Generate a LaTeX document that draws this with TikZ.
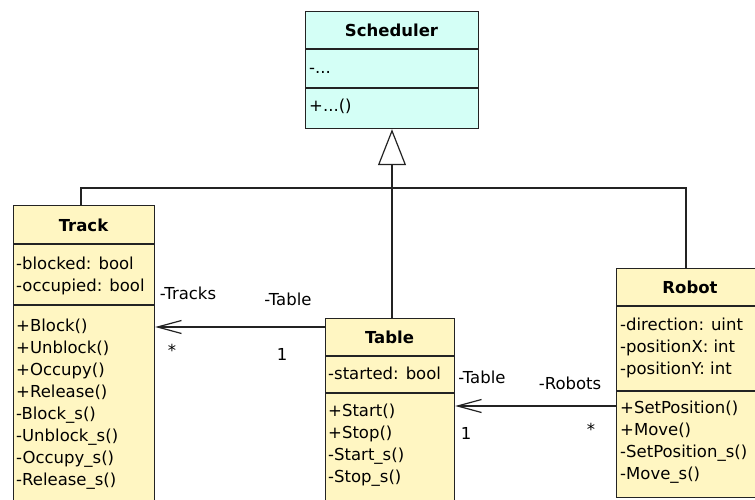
\documentclass[tikz,border=0pt]{standalone}
\usepackage{fontspec}
\setmainfont{DejaVu Sans}
\usetikzlibrary{arrows.meta,calc}
\definecolor{yel}{RGB}{255,246,194}
\definecolor{cyn}{RGB}{212,255,246}
\definecolor{ink}{RGB}{35,35,35}
\begin{document}
\begin{tikzpicture}[x=1pt,y=-1pt,
  box/.style={draw=ink,line width=1.2pt,inner sep=0pt,anchor=north west},
  head/.style={font=\fontsize{16.5}{20}\selectfont\bfseries,inner sep=0pt,anchor=center},
  body/.style={font=\fontsize{16.5}{22}\selectfont,inner sep=0pt,anchor=north west,align=left},
  lbl/.style={font=\fontsize{16.5}{18}\selectfont,inner sep=0pt,anchor=center},
  div/.style={draw=ink,line width=1.2pt},
  link/.style={draw=ink,line width=1.2pt},
  assoc/.style={draw=ink,line width=1.2pt,-{Straight Barb[length=24pt,width=13pt]}},
  gen/.style={draw=ink,line width=1.2pt,-{Triangle[open,length=36pt,width=28pt,fill=white]}}]
\useasboundingbox (0,0) rectangle (755,500);
\clip (0,0) rectangle (755,500);
\fill[white] (0,0) rectangle (755,500);

% Scheduler
\node[box,fill=cyn,minimum width=173pt,minimum height=117pt] (sched) at (305,11) {};
\node[head] (schedH) at (391.5,30) {Scheduler};
\draw[div] ($(sched.north west)+(0,38)$) -- ($(sched.north east)+(0,38)$);
\draw[div] ($(sched.north west)+(0,77)$) -- ($(sched.north east)+(0,77)$);
\node[body] (schedA) at (309,58) {\strut -...};
\node[body] (schedO) at (309,96) {\strut +...()};

% Track
\node[box,fill=yel,minimum width=141pt,minimum height=305pt] (track) at (13,205) {};
\node[head] (trackH) at (83.5,225) {Track};
\draw[div] ($(track.north west)+(0,39)$) -- ($(track.north east)+(0,39)$);
\draw[div] ($(track.north west)+(0,100)$) -- ($(track.north east)+(0,100)$);
\node[body] (trackA) at (16,254) {\strut -blocked: bool\\-occupied: bool};
\node[body] (trackO) at (16,316) {\strut +Block()\\+Unblock()\\+Occupy()\\+Release()\\-Block\_s()\\-Unblock\_s()\\-Occupy\_s()\\-Release\_s()};

% Table
\node[box,fill=yel,minimum width=129pt,minimum height=192pt] (table) at (325,318) {};
\node[head] (tableH) at (389.5,337) {Table};
\draw[div] ($(table.north west)+(0,38)$) -- ($(table.north east)+(0,38)$);
\draw[div] ($(table.north west)+(0,75)$) -- ($(table.north east)+(0,75)$);
\node[body] (tableA) at (328,364) {\strut -started: bool};
\node[body] (tableO) at (328,401) {\strut +Start()\\+Stop()\\-Start\_s()\\-Stop\_s()};

% Robot
\node[box,fill=yel,minimum width=150pt,minimum height=229pt] (robot) at (616,268) {};
\node[head] (robotH) at (690,287) {Robot};
\draw[div] ($(robot.north west)+(0,38)$) -- ($(robot.north east)+(0,38)$);
\draw[div] ($(robot.north west)+(0,123)$) -- ($(robot.north east)+(0,123)$);
\node[body] (robotA) at (620,315) {\strut -direction: uint\\-positionX: int\\-positionY: int};
\node[body] (robotO) at (620,398) {\strut +SetPosition()\\+Move()\\-SetPosition\_s()\\-Move\_s()};

% Generalisation
\coordinate (join) at (392,188);
\draw[link] ($(track.north west)+(68,0)$) |- (join) -| ($(robot.north west)+(70,0)$);
\draw[gen] (table.north -| join) -- (sched.south -| join);

% Associations
\draw[assoc] ($(table.north west)+(0,9)$) -- ($(track.north east)+(0,122)$);
\draw[assoc] ($(robot.north west)+(0,138)$) -- ($(table.north east)+(0,88)$);

% Labels
\node[lbl] (l1) at (188,293) {-Tracks};
\node[lbl] (l2) at (288,299) {-Table};
\node[lbl] (l3) at (172,350) {*};
\node[lbl] (l4) at (282,354) {1};
\node[lbl] (l5) at (482,377) {-Table};
\node[lbl] (l6) at (570,383) {-Robots};
\node[lbl] (l7) at (466,433) {1};
\node[lbl] (l8) at (591,429) {*};
\end{tikzpicture}
\end{document}
